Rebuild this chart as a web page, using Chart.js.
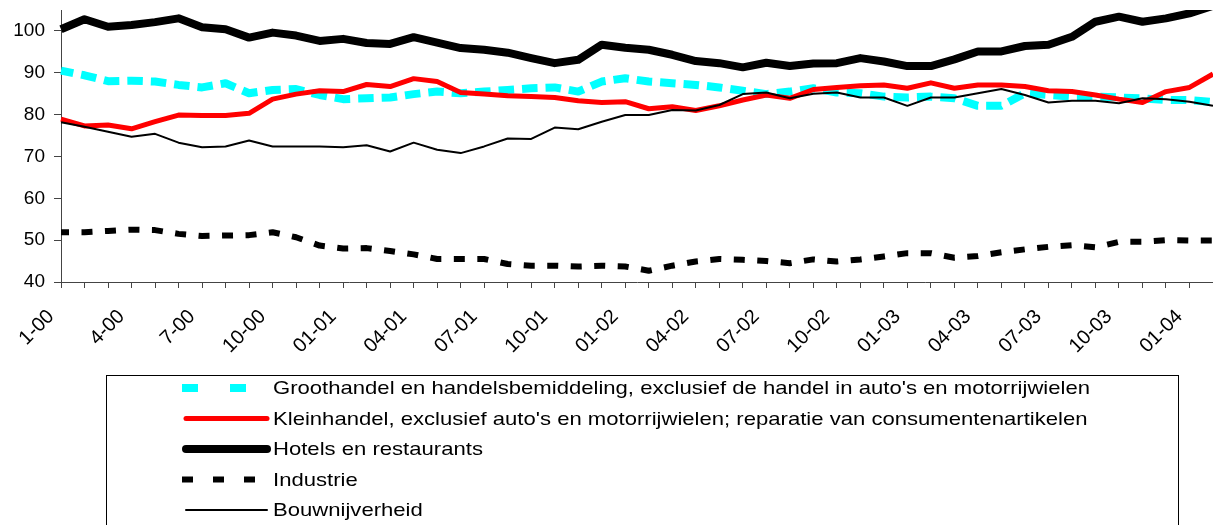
<!DOCTYPE html>
<html>
<head>
<meta charset="utf-8">
<script src="https://cdn.jsdelivr.net/npm/chart.js@4.4.1/dist/chart.umd.min.js"></script>
<style>
  html, body { margin: 0; padding: 0; background: #fff; overflow: hidden; }
  #wrap { width: 1213px; height: 525px; position: relative; }
</style>
</head>
<body>
<div id="wrap"><canvas id="chart"></canvas></div>
<script>
// maanden jan 2000 t/m feb 2004, label om de 3 maanden
const tickLabels = ['1-00', '4-00', '7-00', '10-00', '01-01', '04-01', '07-01', '10-01', '01-02',
    '04-02', '07-02', '10-02', '01-03', '04-03', '07-03', '10-03', '01-04'];
const monthCount = 50;

const groothandel = [90.5, 89.4, 88.0, 88.1, 87.9, 87.1, 86.5, 87.5, 85.1, 85.9,
    86.1, 84.7, 83.7, 83.9, 84.1, 84.9, 85.5, 85.1, 85.5, 85.9,
    86.3, 86.5, 85.5, 87.9, 88.7, 87.9, 87.5, 87.1, 86.5, 85.7,
    84.9, 85.5, 86.3, 85.3, 85.1, 84.3, 84.1, 84.3, 83.9, 82.1,
    82.1, 85.1, 84.7, 84.3, 84.3, 84.1, 83.9, 83.5, 83.5, 83.0];
const kleinhandel = [78.9, 77.3, 77.5, 76.6, 78.3, 79.9, 79.8, 79.8, 80.3, 83.7,
    84.9, 85.7, 85.5, 87.2, 86.7, 88.6, 87.9, 85.3, 84.9, 84.5,
    84.3, 84.1, 83.3, 82.9, 83.1, 81.4, 81.9, 81.0, 82.1, 83.5,
    84.7, 83.9, 86.0, 86.5, 86.9, 87.1, 86.3, 87.6, 86.3, 87.1,
    87.1, 86.7, 85.7, 85.5, 84.7, 83.7, 82.9, 85.5, 86.5, 89.7];
const hotels = [100.4, 102.8, 101.0, 101.4, 102.1, 103.0, 100.9, 100.4, 98.4, 99.6,
    98.9, 97.6, 98.1, 97.1, 96.9, 98.5, 97.2, 95.9, 95.5, 94.8,
    93.5, 92.3, 93.1, 96.7, 96.0, 95.5, 94.3, 92.8, 92.3, 91.3,
    92.4, 91.6, 92.2, 92.3, 93.5, 92.7, 91.6, 91.6, 93.2, 95.1,
    95.1, 96.4, 96.7, 98.6, 102.2, 103.4, 102.2, 103.0, 104.2, 106.0];
const industrie = [51.9, 51.9, 52.2, 52.5, 52.4, 51.5, 51.0, 51.1, 51.2, 51.9,
    50.7, 48.7, 48.0, 48.1, 47.4, 46.6, 45.5, 45.5, 45.5, 44.3,
    43.9, 43.9, 43.7, 43.9, 43.7, 42.7, 43.9, 44.9, 45.5, 45.3,
    45.0, 44.5, 45.4, 44.9, 45.4, 46.1, 46.9, 46.9, 45.8, 46.2,
    47.1, 47.8, 48.4, 48.8, 48.3, 49.6, 49.6, 50.0, 49.9, 49.9];
const bouw = [78.2, 77.1, 75.9, 74.7, 75.4, 73.3, 72.2, 72.4, 73.8, 72.4,
    72.4, 72.4, 72.2, 72.7, 71.2, 73.3, 71.6, 70.8, 72.4, 74.3,
    74.2, 76.9, 76.5, 78.3, 79.9, 79.9, 81.1, 81.0, 82.3, 84.9,
    85.3, 83.9, 85.0, 85.3, 84.1, 84.1, 82.1, 84.1, 84.1, 85.1,
    86.1, 84.7, 82.9, 83.3, 83.3, 82.7, 83.9, 83.7, 83.1, 82.1];

const seriesNames = [
    "Groothandel en handelsbemiddeling, exclusief de handel in auto's en motorrijwielen",
    "Kleinhandel, exclusief auto's en motorrijwielen; reparatie van consumentenartikelen",
    "Hotels en restaurants",
    "Industrie",
    "Bouwnijverheid"
];
const yTicks = [40, 50, 60, 70, 80, 90, 100];

const FONT = '"Liberation Sans", Arial, sans-serif';
Chart.defaults.font.family = FONT;
Chart.defaults.color = '#000';

let categories = [];
for (let i = 0; i < monthCount; i++) {
    categories.push(i % 3 === 0 ? tickLabels[i / 3] : '');
}

// eigen legenda in een kader onder de grafiek
const legendBox = {
    id: 'legendBox',
    afterDraw(chart) {
        const ctx = chart.ctx;
        ctx.save();
        ctx.strokeStyle = '#000';
        ctx.lineWidth = 1;
        ctx.strokeRect(106.5, 375.5, 1072, 170);
        ctx.font = '19px ' + FONT;
        ctx.textBaseline = 'middle';
        ctx.fillStyle = '#000';
        let sx = 817 / ctx.measureText(chart.data.datasets[0].label).width;
        chart.data.datasets.forEach((ds, i) => {
            let y = 388 + i * 30.5;
            ctx.beginPath();
            ctx.setLineDash(ds.legendDash || []);
            ctx.lineCap = ds.legendDash ? 'butt' : 'round';
            ctx.lineWidth = ds.borderWidth;
            ctx.strokeStyle = ds.borderColor;
            ctx.moveTo(ds.legendDash ? 182 : 186, y);
            ctx.lineTo(ds.legendDash ? 270 : 267, y);
            ctx.stroke();
            ctx.setLineDash([]);
            ctx.save();
            ctx.translate(273, y + 1);
            ctx.scale(sx, 1);
            ctx.fillText(ds.label, 0, 0);
            ctx.restore();
        });
        ctx.restore();
    }
};

function makeSet(i, data, color, width, dash, legendDash, order) {
    return {
        label: seriesNames[i],
        data: data,
        borderColor: color,
        backgroundColor: color,
        borderWidth: width,
        borderDash: dash,
        borderDashOffset: 3,
        legendDash: legendDash,
        borderCapStyle: 'butt',
        borderJoinStyle: 'round',
        pointRadius: 0,
        tension: 0,
        fill: false,
        order: order
    };
}

window.onload = () => {
    let ctx = document.getElementById('chart').getContext('2d');
    new Chart(ctx, {
        type: 'line',
        data: {
            labels: categories,
            datasets: [
                makeSet(0, groothandel, '#00FFFF', 8, [15.5, 8], [16, 32], 5),
                makeSet(1, kleinhandel, '#FF0000', 5, [], null, 4),
                makeSet(2, hotels, '#000000', 8, [], null, 3),
                makeSet(3, industrie, '#000000', 6, [11, 12.5], [11, 20], 2),
                makeSet(4, bouw, '#000000', 2, [], null, 1)
            ]
        },
        options: {
            responsive: true,
            maintainAspectRatio: false,
            animation: false,
            layout: { padding: { top: 10, right: 0, bottom: 0, left: 0 } },
            plugins: {
                legend: { display: false },
                tooltip: { enabled: false }
            },
            scales: {
                x: {
                    offset: false,
                    grid: { display: true, drawOnChartArea: false, drawTicks: true, tickLength: 6, color: '#444' },
                    border: { display: true, color: '#444', width: 1 },
                    ticks: {
                        autoSkip: false,
                        maxRotation: 45,
                        minRotation: 45,
                        padding: 17,
                        labelOffset: -10,
                        font: { size: 20 },
                        color: '#000'
                    },
                    afterFit(scale) {
                        scale.height = 243;
                        scale.paddingLeft = 0;
                        scale.paddingRight = 0;
                    }
                },
                y: {
                    min: 40,
                    max: 105,
                    grid: { display: true, drawOnChartArea: false, drawTicks: true, tickLength: 7, color: '#444' },
                    border: { display: true, color: '#444', width: 1 },
                    ticks: {
                        padding: 9,
                        font: { size: 19 },
                        color: '#000'
                    },
                    afterBuildTicks(scale) {
                        scale.ticks = yTicks.map(v => ({ value: v }));
                    },
                    afterFit(scale) {
                        scale.width = 61;
                        scale.paddingTop = 0;
                        scale.paddingBottom = 0;
                    }
                }
            }
        },
        plugins: [legendBox]
    });
};
</script>
</body>
</html>
